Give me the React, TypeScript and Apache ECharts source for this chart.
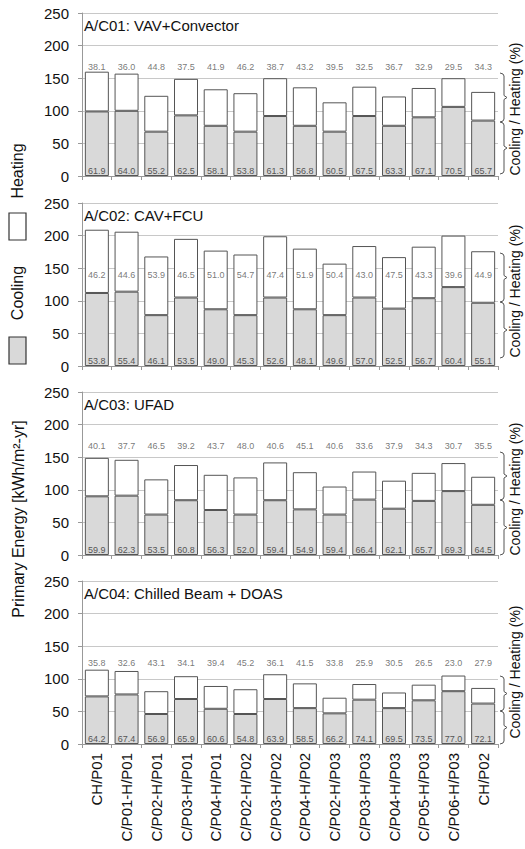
import React, { useEffect, useRef } from "react";
import * as echarts from "echarts";

const categories = [
  "CH/P01", "C/P01-H/P01", "C/P02-H/P01", "C/P03-H/P01", "C/P04-H/P01",
  "C/P02-H/P02", "C/P03-H/P02", "C/P04-H/P02", "C/P02-H/P03", "C/P03-H/P03",
  "C/P04-H/P03", "C/P05-H/P03", "C/P06-H/P03", "CH/P02",
];

const panelTitles = [
  "A/C01: VAV+Convector",
  "A/C02: CAV+FCU",
  "A/C03: UFAD",
  "A/C04: Chilled Beam + DOAS",
];

// A/C01
const ac01Cooling = [99, 100, 68, 93, 77, 68, 92, 77, 68, 92, 77, 90, 106, 85];
const ac01Heating = [61, 57, 55, 56, 56, 59, 58, 59, 45, 45, 45, 45, 44, 44];
const ac01CoolPct = [61.9, 64.0, 55.2, 62.5, 58.1, 53.8, 61.3, 56.8, 60.5, 67.5, 63.3, 67.1, 70.5, 65.7];
const ac01HeatPct = [38.1, 36.0, 44.8, 37.5, 41.9, 46.2, 38.7, 43.2, 39.5, 32.5, 36.7, 32.9, 29.5, 34.3];

// A/C02
const ac02Cooling = [112, 114, 78, 105, 87, 78, 105, 87, 78, 105, 88, 104, 121, 97];
const ac02Heating = [97, 92, 90, 90, 90, 93, 94, 93, 79, 79, 79, 79, 79, 79];
const ac02CoolPct = [53.8, 55.4, 46.1, 53.5, 49.0, 45.3, 52.6, 48.1, 49.6, 57.0, 52.5, 56.7, 60.4, 55.1];
const ac02HeatPct = [46.2, 44.6, 53.9, 46.5, 51.0, 54.7, 47.4, 51.9, 50.4, 43.0, 47.5, 43.3, 39.6, 44.9];

// A/C03
const ac03Cooling = [90, 91, 62, 84, 69, 62, 84, 70, 62, 85, 71, 83, 98, 77];
const ac03Heating = [59, 55, 54, 54, 54, 57, 58, 57, 43, 43, 43, 43, 43, 43];
const ac03CoolPct = [59.9, 62.3, 53.5, 60.8, 56.3, 52.0, 59.4, 54.9, 59.4, 66.4, 62.1, 65.7, 69.3, 64.5];
const ac03HeatPct = [40.1, 37.7, 46.5, 39.2, 43.7, 48.0, 40.6, 45.1, 40.6, 33.6, 37.9, 34.3, 30.7, 35.5];

// A/C04
const ac04Cooling = [73, 76, 46, 69, 54, 46, 69, 55, 47, 68, 55, 67, 81, 62];
const ac04Heating = [41, 36, 35, 35, 35, 38, 38, 38, 24, 24, 24, 24, 24, 24];
const ac04CoolPct = [64.2, 67.4, 56.9, 65.9, 60.6, 54.8, 63.9, 58.5, 66.2, 74.1, 69.5, 73.5, 77.0, 72.1];
const ac04HeatPct = [35.8, 32.6, 43.1, 34.1, 39.4, 45.2, 36.1, 41.5, 33.8, 25.9, 30.5, 26.5, 23.0, 27.9];

const yTicks = { min: 0, max: 250, interval: 50 };

const panels = [
  { cooling: ac01Cooling, heating: ac01Heating, coolPct: ac01CoolPct, heatPct: ac01HeatPct },
  { cooling: ac02Cooling, heating: ac02Heating, coolPct: ac02CoolPct, heatPct: ac02HeatPct },
  { cooling: ac03Cooling, heating: ac03Heating, coolPct: ac03CoolPct, heatPct: ac03HeatPct },
  { cooling: ac04Cooling, heating: ac04Heating, coolPct: ac04CoolPct, heatPct: ac04HeatPct },
];

// layout
const FONT = "'Liberation Sans', Arial, sans-serif";
const TOPS = [13, 203, 392, 581];
const PH = 163;
const LEFT = 82;
const PW = 416;
const HEAT_LABEL_Y = [167, 139, 167, 125];
const RIGHT_TEXT_Y = [109, 291, 489, 672];
const BRACES = [
  [73, 122, 174],
  [253, 302, 358],
  [452, 500, 555],
  [676, 711, 744],
];

function brace(x: number, y1: number, y2: number) {
  const ym = (y1 + y2) / 2;
  return {
    type: "polyline",
    shape: {
      points: [
        [x - 4, y1],
        [x - 1, y1 + 1],
        [x, y1 + 3],
        [x, ym - 2],
        [x + 3, ym],
        [x, ym + 2],
        [x, y2 - 3],
        [x - 1, y2 - 1],
        [x - 4, y2],
      ],
    },
    style: { stroke: "#555", lineWidth: 1, fill: null },
    silent: true,
  };
}

export default function App() {
  const ref = useRef<HTMLDivElement>(null);

  useEffect(() => {
    if (!ref.current) return;
    const chart = echarts.init(ref.current, null, { renderer: "svg" });

    const grid: any[] = [];
    const xAxis: any[] = [];
    const yAxis: any[] = [];
    const series: any[] = [];
    const graphic: any[] = [];

    panels.forEach((p, i) => {
      grid.push({ left: LEFT, top: TOPS[i], width: PW, height: PH });
      xAxis.push({
        type: "category",
        gridIndex: i,
        data: categories,
        axisLine: { show: true, lineStyle: { color: "#999", width: 1 } },
        axisTick: { show: true, length: 4, interval: 0, lineStyle: { color: "#999" } },
        axisLabel: {
          show: i === 3,
          interval: 0,
          rotate: 90,
          fontSize: 15,
          color: "#111",
          margin: 9,
          fontFamily: FONT,
        },
      });
      yAxis.push({
        type: "value",
        gridIndex: i,
        min: yTicks.min,
        max: yTicks.max,
        interval: yTicks.interval,
        axisLine: { show: true, lineStyle: { color: "#999", width: 1 } },
        axisTick: { show: true, length: 4, lineStyle: { color: "#999" } },
        splitLine: { show: true, lineStyle: { color: "#c8c8c8", width: 1 } },
        axisLabel: { fontSize: 15, color: "#111", margin: 13, fontFamily: FONT },
      });
      series.push({
        type: "bar",
        name: "Cooling",
        xAxisIndex: i,
        yAxisIndex: i,
        stack: "s" + i,
        barWidth: 24,
        data: p.cooling,
        itemStyle: { color: "#d9d9d9", borderColor: "#555", borderWidth: 1 },
        label: {
          show: true,
          position: "insideBottom",
          distance: 1,
          fontSize: 9,
          color: "#555",
          fontFamily: FONT,
          formatter: (prm: any) => p.coolPct[prm.dataIndex].toFixed(1),
        },
      });
      series.push({
        type: "bar",
        name: "Heating",
        xAxisIndex: i,
        yAxisIndex: i,
        stack: "s" + i,
        barWidth: 24,
        data: p.heating,
        itemStyle: { color: "#ffffff", borderColor: "#555", borderWidth: 1 },
      });
      series.push({
        type: "scatter",
        xAxisIndex: i,
        yAxisIndex: i,
        symbolSize: 1,
        silent: true,
        z: 10,
        itemStyle: { color: "rgba(0,0,0,0)" },
        data: categories.map((c) => [c, HEAT_LABEL_Y[i]]),
        label: {
          show: true,
          position: "inside",
          fontSize: 9,
          color: "#555",
          fontFamily: FONT,
          formatter: (prm: any) => p.heatPct[prm.dataIndex].toFixed(1),
        },
      });

      graphic.push({
        type: "text",
        x: LEFT + 2,
        y: TOPS[i] + 12,
        silent: true,
        style: {
          text: panelTitles[i],
          fontSize: 15,
          fontFamily: FONT,
          fill: "#111",
          align: "left",
          verticalAlign: "middle",
        },
      });
      graphic.push({
        type: "text",
        x: 515,
        y: RIGHT_TEXT_Y[i],
        rotation: Math.PI / 2,
        silent: true,
        style: {
          text: "Cooling / Heating (%)",
          fontSize: 14,
          fontFamily: FONT,
          fill: "#111",
          align: "center",
          verticalAlign: "middle",
        },
      });
      const b = BRACES[i];
      graphic.push(brace(504, b[0], b[1]));
      graphic.push(brace(504, b[1], b[2]));
    });

    // legend & y title
    graphic.push({
      type: "text",
      x: 17,
      y: 171,
      rotation: Math.PI / 2,
      silent: true,
      style: { text: "Heating", fontSize: 16, fontFamily: FONT, fill: "#111", align: "center", verticalAlign: "middle" },
    });
    graphic.push({
      type: "rect",
      shape: { x: 9, y: 213, width: 17, height: 27 },
      style: { fill: "#ffffff", stroke: "#333", lineWidth: 1.2 },
      silent: true,
    });
    graphic.push({
      type: "text",
      x: 17,
      y: 293,
      rotation: Math.PI / 2,
      silent: true,
      style: { text: "Cooling", fontSize: 16, fontFamily: FONT, fill: "#111", align: "center", verticalAlign: "middle" },
    });
    graphic.push({
      type: "rect",
      shape: { x: 9, y: 337, width: 17, height: 27 },
      style: { fill: "#d9d9d9", stroke: "#333", lineWidth: 1.2 },
      silent: true,
    });
    graphic.push({
      type: "text",
      x: 18,
      y: 519,
      rotation: Math.PI / 2,
      silent: true,
      style: {
        text: "Primary Energy [kWh/m²-yr]",
        fontSize: 16,
        fontFamily: FONT,
        fill: "#111",
        align: "center",
        verticalAlign: "middle",
      },
    });

    chart.setOption({
      animation: false,
      backgroundColor: "#ffffff",
      textStyle: { fontFamily: FONT },
      grid,
      xAxis,
      yAxis,
      series,
      graphic,
    });

    return () => chart.dispose();
  }, []);

  return (
    <div
      ref={ref}
      style={{ position: "absolute", left: 0, top: 0, width: 525, height: 849 }}
    />
  );
}
